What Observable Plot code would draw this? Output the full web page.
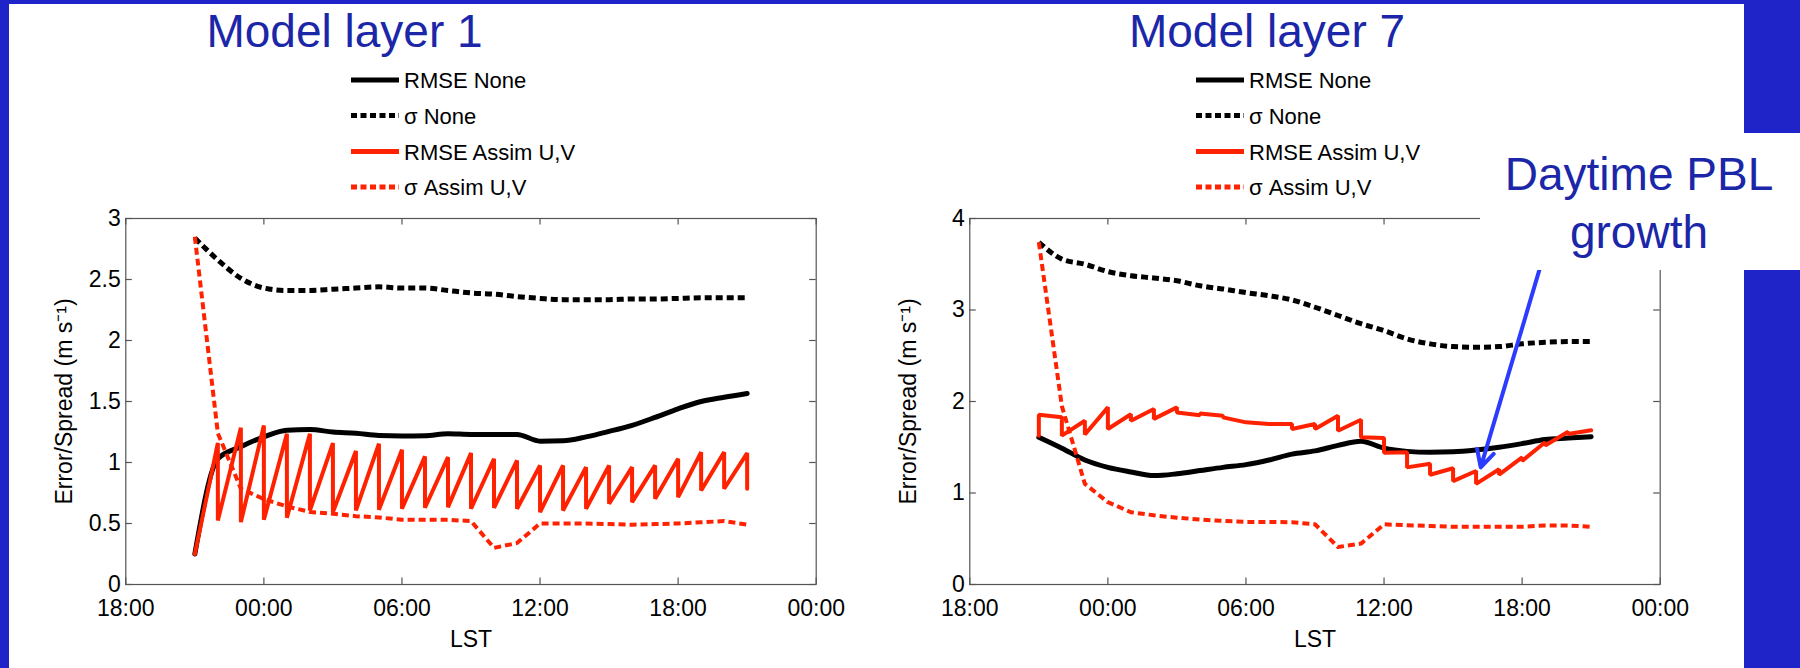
<!DOCTYPE html>
<html>
<head>
<meta charset="utf-8">
<script src="https://cdn.jsdelivr.net/npm/d3@7"></script>
<script src="https://cdn.jsdelivr.net/npm/@observablehq/plot@0.6"></script>
<style>
html, body { margin: 0; padding: 0; background: #fff; }
#page { position: relative; width: 1800px; height: 668px; overflow: hidden; background: #fff;
        font-family: "Liberation Sans", Arial, Helvetica, sans-serif; }
.chart { position: absolute; top: 200px; z-index: 1; }
.band { position: absolute; background: #1e24c8; z-index: 2; }
#notebox { position: absolute; left: 1480px; top: 133px; width: 320px; height: 137px; background: #fff; z-index: 2; }
#overlay { position: absolute; left: 0; top: 0; z-index: 3; pointer-events: none; }
</style>
</head>
<body>
<div id="page">
  <div id="chart1" class="chart" style="left:0px"></div>
  <div id="chart2" class="chart" style="left:900px"></div>
  <div id="notebox"></div>
  <div class="band" style="left:0;top:0;width:9px;height:668px"></div>
  <div class="band" style="left:0;top:0;width:1800px;height:4px"></div>
  <div class="band" style="left:1744px;top:0;width:56px;height:133px"></div>
  <div class="band" style="left:1744px;top:270px;width:56px;height:398px"></div>
  <svg id="overlay" width="1800" height="668"></svg>
</div>
<script>
// ---------------- DATA ----------------
// x = hours after 18:00 (LST), hourly from 21:00 to 21:00 next day
const hours = [3, 4, 5, 6, 7, 8, 9, 10, 11, 12, 13, 14, 15, 16, 17, 18, 19, 20, 21, 22, 23, 24, 25, 26, 27];
const xTicks = [0, 6, 12, 18, 24, 30];
const xTickLabels = ["18:00", "00:00", "06:00", "12:00", "18:00", "00:00"];
const yTicksL1 = [0, 0.5, 1, 1.5, 2, 2.5, 3];
const yTicksL7 = [0, 1, 2, 3, 4];

const titles = ["Model layer 1", "Model layer 7"];
const legendLabels = ["RMSE None", "σ None", "RMSE Assim U,V", "σ Assim U,V"];
const noteLines = ["Daytime PBL", "growth"];

// Model layer 1
const L1_rmseNone  = [0.25, 1.03, 1.13, 1.21, 1.265, 1.27, 1.25, 1.24, 1.222, 1.218, 1.22, 1.236, 1.23, 1.23, 1.23, 1.175, 1.178, 1.21, 1.255, 1.305, 1.37, 1.44, 1.50, 1.535, 1.566];
const L1_sigmaNone = [2.84, 2.66, 2.51, 2.43, 2.41, 2.41, 2.42, 2.43, 2.44, 2.43, 2.43, 2.41, 2.39, 2.38, 2.36, 2.345, 2.335, 2.335, 2.335, 2.34, 2.34, 2.345, 2.35, 2.35, 2.35];
const L1_rmseAssimFcst = [0.25, 1.16, 1.285, 1.304, 1.236, 1.236, 1.159, 1.094, 1.154, 1.105, 1.05, 1.044, 1.077, 1.031, 1.017, 0.976, 0.976, 0.962, 0.976, 0.962, 0.976, 1.031, 1.085, 1.085, 1.077];
const L1_rmseAssimAnal = [0.25, 0.525, 0.511, 0.53, 0.547, 0.607, 0.593, 0.607, 0.613, 0.621, 0.629, 0.634, 0.621, 0.629, 0.621, 0.593, 0.607, 0.621, 0.662, 0.675, 0.703, 0.716, 0.771, 0.785, 0.785];
const L1_sigmaAssim = [2.85, 1.24, 0.785, 0.70, 0.64, 0.595, 0.58, 0.56, 0.55, 0.53, 0.53, 0.53, 0.52, 0.30, 0.34, 0.50, 0.50, 0.50, 0.495, 0.49, 0.495, 0.50, 0.51, 0.52, 0.49];

// Model layer 7
const L7_rmseNone  = [1.61, 1.49, 1.36, 1.28, 1.23, 1.19, 1.21, 1.245, 1.28, 1.31, 1.36, 1.425, 1.46, 1.52, 1.565, 1.49, 1.455, 1.445, 1.45, 1.47, 1.50, 1.54, 1.585, 1.60, 1.615];
const L7_sigmaNone = [3.74, 3.556, 3.50, 3.42, 3.375, 3.35, 3.32, 3.265, 3.23, 3.19, 3.156, 3.11, 3.03, 2.94, 2.85, 2.775, 2.684, 2.63, 2.60, 2.593, 2.60, 2.63, 2.647, 2.655, 2.655];
const L7_rmseAssimFcst = [1.627, 1.827, 1.79, 1.936, 1.86, 1.918, 1.936, 1.85, 1.845, 1.772, 1.754, 1.754, 1.754, 1.845, 1.80, 1.60, 1.445, 1.32, 1.27, 1.24, 1.26, 1.39, 1.555, 1.67, 1.685];
const L7_rmseAssimAnal = [1.856, 1.627, 1.64, 1.70, 1.79, 1.81, 1.88, 1.87, 1.827, 1.772, 1.754, 1.70, 1.70, 1.68, 1.61, 1.44, 1.28, 1.20, 1.13, 1.10, 1.20, 1.35, 1.52, 1.645, 1.685];
const L7_sigmaAssim = [3.74, 1.95, 1.10, 0.90, 0.79, 0.756, 0.73, 0.71, 0.695, 0.684, 0.684, 0.68, 0.658, 0.41, 0.447, 0.658, 0.647, 0.64, 0.63, 0.63, 0.63, 0.63, 0.645, 0.645, 0.63];

// annotation arrow (hours after 18:00, m/s) in layer-7 panel
const arrowFrom = [25.0, 3.65];
const arrowTo   = [22.2, 1.28];

// ---------------- STYLE ----------------
const RED = "#ff2200";
const BLACK = "#000000";
const AXIS = "#555555";
const DASH = "7,4";
const TITLE_BLUE = "#1b27a8";
const ARROW_BLUE = "#2b3cff";
const FONT = "'Liberation Sans', Arial, Helvetica, sans-serif";

const series = (vals) => vals.map((v, i) => ({h: hours[i], v}));
const saw = (f, a) => hours.flatMap((h, i) => [{h, v: f[i]}, {h, v: a[i]}]);

function panel({yMax, yTicks, rmseNone, sigmaNone, fcst, anal, sigmaAssim, marginLeft, marginRight, extra = []}) {
  const H = 468, mT = 18, mB = 84;
  const plotH = H - mT - mB;
  const plotW = 900 - marginLeft - marginRight;
  const tLenY = 6.5 * yMax / plotH;
  const tLenX = 6.5 * 30 / plotW;
  return Plot.plot({
    width: 900, height: H,
    marginTop: mT, marginBottom: mB, marginLeft, marginRight,
    style: {fontFamily: FONT, fontSize: "23px", color: "#000", background: "transparent", overflow: "visible"},
    x: {domain: [0, 30]},
    y: {domain: [0, yMax]},
    marks: [
      Plot.frame({stroke: AXIS, strokeWidth: 1.2}),
      Plot.ruleX(xTicks, {x: d => d, y1: 0, y2: tLenY, stroke: AXIS, strokeWidth: 1.2}),
      Plot.ruleX(xTicks, {x: d => d, y1: yMax - tLenY, y2: yMax, stroke: AXIS, strokeWidth: 1.2}),
      Plot.ruleY(yTicks, {y: d => d, x1: 0, x2: tLenX, stroke: AXIS, strokeWidth: 1.2}),
      Plot.ruleY(yTicks, {y: d => d, x1: 30 - tLenX, x2: 30, stroke: AXIS, strokeWidth: 1.2}),
      Plot.axisX(xTicks, {anchor: "bottom", tickSize: 0, tickPadding: 15,
        tickFormat: d => xTickLabels[xTicks.indexOf(d)],
        label: "LST", labelAnchor: "center", labelOffset: 62, labelArrow: "none"}),
      Plot.axisY(yTicks, {anchor: "left", tickSize: 0, tickPadding: 5,
        tickFormat: d => String(d),
        label: "Error/Spread (m s⁻¹)", labelAnchor: "center", labelOffset: 70, labelArrow: "none"}),
      Plot.line(series(rmseNone), {x: "h", y: "v", stroke: BLACK, strokeWidth: 5, curve: "monotone-x"}),
      Plot.line(series(sigmaNone), {x: "h", y: "v", stroke: BLACK, strokeWidth: 5, curve: "monotone-x",
        strokeDasharray: DASH, strokeLinecap: "butt"}),
      Plot.line(saw(fcst, anal), {x: "h", y: "v", stroke: RED, strokeWidth: 4, strokeLinejoin: "miter"}),
      Plot.line(series(sigmaAssim), {x: "h", y: "v", stroke: RED, strokeWidth: 4,
        strokeDasharray: DASH, strokeLinecap: "butt"}),
      ...extra
    ]
  });
}

document.getElementById("chart1").append(panel({
  yMax: 3, yTicks: yTicksL1,
  rmseNone: L1_rmseNone, sigmaNone: L1_sigmaNone, fcst: L1_rmseAssimFcst, anal: L1_rmseAssimAnal, sigmaAssim: L1_sigmaAssim,
  marginLeft: 125.3, marginRight: 84.3
}));

document.getElementById("chart2").append(panel({
  yMax: 4, yTicks: yTicksL7,
  rmseNone: L7_rmseNone, sigmaNone: L7_sigmaNone, fcst: L7_rmseAssimFcst, anal: L7_rmseAssimAnal, sigmaAssim: L7_sigmaAssim,
  marginLeft: 69.3, marginRight: 140.3,
  extra: [
    Plot.arrow([{x1: arrowFrom[0], y1: arrowFrom[1], x2: arrowTo[0], y2: arrowTo[1]}],
      {x1: "x1", y1: "y1", x2: "x2", y2: "y2", stroke: ARROW_BLUE, strokeWidth: 4, headLength: 7, headAngle: 55})
  ]
}));

// ---------------- TITLES, LEGENDS, NOTE ----------------
const svg = d3.select("#overlay");
const titlePos = [{x: 344.5, y: 47}, {x: 1267, y: 47}];
titles.forEach((t, i) => {
  svg.append("text").attr("x", titlePos[i].x).attr("y", titlePos[i].y)
    .attr("text-anchor", "middle").attr("font-family", FONT).attr("font-size", 46)
    .attr("fill", TITLE_BLUE).text(t);
});

const legendStyle = [
  {stroke: BLACK, dash: null}, {stroke: BLACK, dash: "6,3.5"},
  {stroke: RED, dash: null}, {stroke: RED, dash: "6,3.5"}
];
const legendRowsY = [80, 115.5, 151.5, 187];
const legendX = [351, 1196];
legendX.forEach(x0 => {
  legendLabels.forEach((lab, i) => {
    const y = legendRowsY[i];
    const ln = svg.append("line").attr("x1", x0).attr("x2", x0 + 48).attr("y1", y).attr("y2", y)
      .attr("stroke", legendStyle[i].stroke).attr("stroke-width", 5);
    if (legendStyle[i].dash) ln.attr("stroke-dasharray", legendStyle[i].dash);
    svg.append("text").attr("x", x0 + 53).attr("y", y + 8)
      .attr("font-family", FONT).attr("font-size", 22).attr("fill", "#000").text(lab);
  });
});

const notePos = [{x: 1639, y: 190}, {x: 1639, y: 248}];
noteLines.forEach((t, i) => {
  svg.append("text").attr("x", notePos[i].x).attr("y", notePos[i].y)
    .attr("text-anchor", "middle").attr("font-family", FONT).attr("font-size", 46)
    .attr("fill", TITLE_BLUE).text(t);
});
</script>
</body>
</html>
